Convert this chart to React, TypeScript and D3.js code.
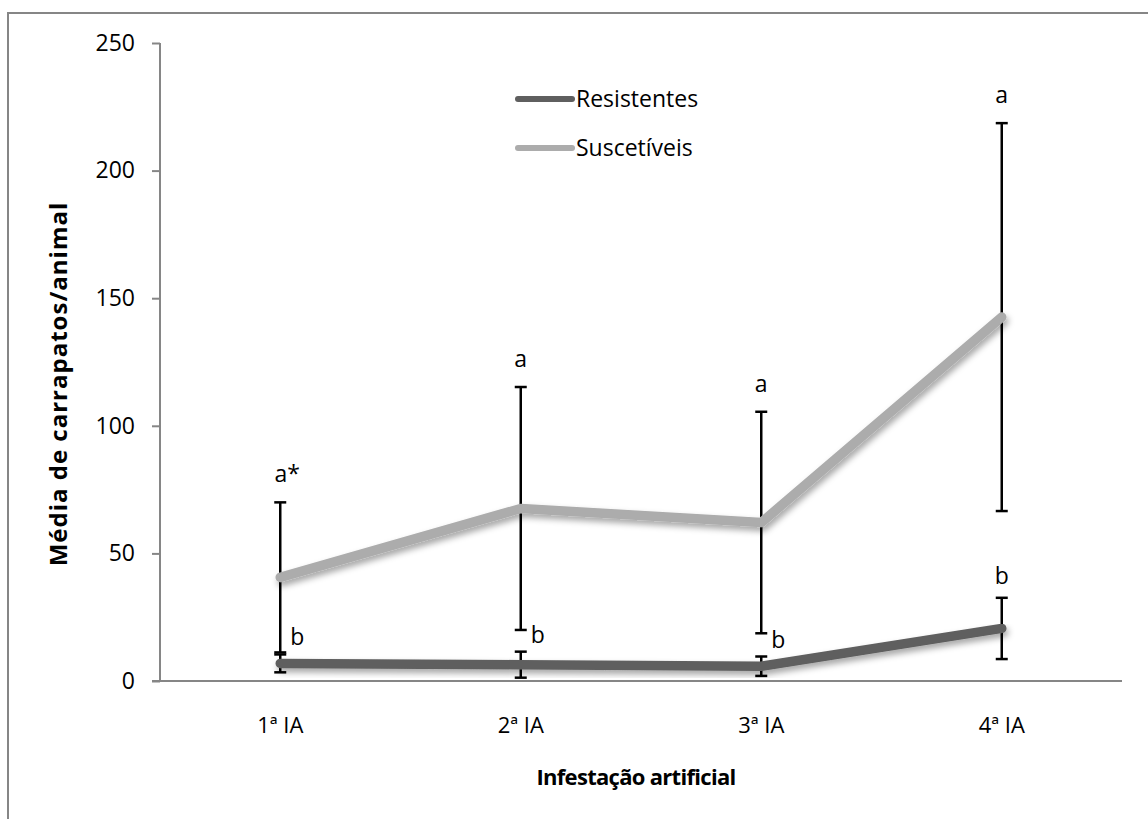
import * as React from "react";
import * as d3 from "d3";

const categories = ["1ª IA", "2ª IA", "3ª IA", "4ª IA"];
const seriesNames = ["Resistentes", "Suscetíveis"];
const resistentes = [6.9, 6.4, 5.8, 20.6];
const resistentesErr = [3.5, 5.1, 3.8, 12];
const suscetiveis = [40.6, 67.6, 62.1, 142.6];
const suscetiveisErr = [29.4, 47.6, 43.4, 76];
const resLabels = ["b", "b", "b", "b"];
const susLabels = ["a*", "a", "a", "a"];
const yTicks = [0, 50, 100, 150, 200, 250];

const W = 1148;
const H = 819;
const FONT = "'Open Sans', 'Liberation Sans', sans-serif";

export default function App() {
  const ref = React.useRef<SVGSVGElement>(null);

  React.useEffect(() => {
    if (!ref.current) return;
    const svg = d3.select(ref.current);
    svg.selectAll("*").remove();

    const left = 160,
      right = 1122,
      top = 43,
      bottom = 681;

    // drop shadow like the excel line effect
    const defs = svg.append("defs");
    defs
      .append("filter")
      .attr("id", "shadow")
      .attr("x", "-10%")
      .attr("y", "-10%")
      .attr("width", "120%")
      .attr("height", "140%")
      .append("feDropShadow")
      .attr("dx", 2)
      .attr("dy", 4)
      .attr("stdDeviation", 3)
      .attr("flood-color", "#000")
      .attr("flood-opacity", 0.35);

    svg.append("rect").attr("width", W).attr("height", H).attr("fill", "#fff");

    // outer frame (right/bottom fall outside the picture)
    svg
      .append("rect")
      .attr("x", 8)
      .attr("y", 13)
      .attr("width", W + 20)
      .attr("height", H + 20)
      .attr("fill", "none")
      .attr("stroke", "#868686")
      .attr("stroke-width", 2);

    const x = d3.scaleBand<string>().domain(categories).range([left, right]);
    const cx = (c: string) => (x(c) as number) + x.bandwidth() / 2;
    const y = d3.scaleLinear().domain([0, 250]).range([bottom, top]);

    // y axis
    const yAxis = svg
      .append("g")
      .attr("transform", `translate(${left},0)`)
      .call(d3.axisLeft(y).tickValues(yTicks).tickSize(8).tickPadding(17));
    yAxis.select(".domain").attr("stroke", "#868686").attr("stroke-width", 2).attr("d", `M0,${top}V${bottom}`);
    yAxis.selectAll(".tick line").attr("stroke", "#868686").attr("stroke-width", 2);
    yAxis
      .selectAll(".tick text")
      .attr("font-family", FONT)
      .attr("font-size", 23)
      .attr("fill", "#000");

    // x axis
    svg
      .append("line")
      .attr("x1", left - 8)
      .attr("x2", right)
      .attr("y1", bottom)
      .attr("y2", bottom)
      .attr("stroke", "#868686")
      .attr("stroke-width", 2);

    svg
      .append("g")
      .selectAll("text")
      .data(categories)
      .enter()
      .append("text")
      .attr("x", d => cx(d))
      .attr("y", 733)
      .attr("text-anchor", "middle")
      .attr("font-family", FONT)
      .attr("font-size", 22)
      .text(d => d);

    // titles
    svg
      .append("text")
      .attr("transform", `translate(67,384) rotate(-90)`)
      .attr("text-anchor", "middle")
      .attr("font-family", FONT)
      .attr("font-weight", "bold")
      .attr("font-size", 24)
      .attr("letter-spacing", 1)
      .text("Média de carrapatos/animal");

    svg
      .append("text")
      .attr("x", 636)
      .attr("y", 785)
      .attr("text-anchor", "middle")
      .attr("font-family", FONT)
      .attr("font-weight", "bold")
      .attr("font-size", 22)
      .attr("letter-spacing", -0.7)
      .text("Infestação artificial");

    // error bars
    const drawErr = (vals: number[], errs: number[]) => {
      const g = svg.append("g").attr("stroke", "#000").attr("stroke-width", 2.5);
      categories.forEach((c, i) => {
        const hi = y(vals[i] + errs[i]);
        const lo = y(Math.max(0, vals[i] - errs[i]));
        g.append("line").attr("x1", cx(c)).attr("x2", cx(c)).attr("y1", hi).attr("y2", lo);
        [hi, lo].forEach(v => {
          g.append("line")
            .attr("x1", cx(c) - 6)
            .attr("x2", cx(c) + 6)
            .attr("y1", v)
            .attr("y2", v);
        });
      });
    };
    drawErr(suscetiveis, suscetiveisErr);
    drawErr(resistentes, resistentesErr);

    const colors = d3
      .scaleOrdinal<string, string>()
      .domain(seriesNames)
      .range(["#5f5f5f", "#acacac"]);

    const line = d3
      .line<number>()
      .x((d, i) => cx(categories[i]))
      .y(d => y(d));

    [resistentes, suscetiveis].forEach((vals, k) => {
      svg
        .append("path")
        .attr("d", line(vals) as string)
        .attr("fill", "none")
        .attr("stroke", colors(seriesNames[k]))
        .attr("stroke-width", 9.5)
        .attr("stroke-linecap", "round")
        .attr("stroke-linejoin", "round")
        .attr("filter", "url(#shadow)");
    });

    // significance letters
    const letters = svg
      .append("g")
      .attr("font-family", FONT)
      .attr("font-size", 23)
      .attr("fill", "#000");
    categories.forEach((c, i) => {
      letters
        .append("text")
        .attr("x", cx(c) + (i === 0 ? 7 : 0))
        .attr("y", y(suscetiveis[i] + suscetiveisErr[i]) - 20)
        .attr("text-anchor", "middle")
        .text(susLabels[i]);
      const last = i === categories.length - 1;
      letters
        .append("text")
        .attr("x", last ? cx(c) : cx(c) + 10)
        .attr("y", last ? y(resistentes[i] + resistentesErr[i]) - 14 : y(resistentes[i] + resistentesErr[i]) - 9)
        .attr("text-anchor", last ? "middle" : "start")
        .text(resLabels[i]);
    });

    // legend
    const legend = svg.append("g").attr("transform", "translate(518,99)");
    seriesNames.forEach((s, i) => {
      legend
        .append("line")
        .attr("x1", 0)
        .attr("x2", 54)
        .attr("y1", i * 49)
        .attr("y2", i * 49)
        .attr("stroke", colors(s))
        .attr("stroke-width", 6)
        .attr("stroke-linecap", "round");
      legend
        .append("text")
        .attr("x", 58)
        .attr("y", i * 49 + 8)
        .attr("font-family", FONT)
        .attr("font-size", 23)
        .text(s);
    });
  }, []);

  return (
    <svg
      ref={ref}
      width={W}
      height={H}
      style={{ position: "absolute", left: 0, top: 0, display: "block" }}
    />
  );
}
